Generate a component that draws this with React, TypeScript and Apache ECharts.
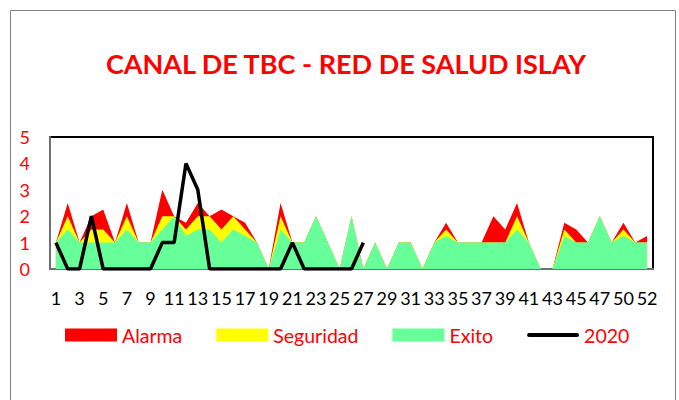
import React, { useEffect, useRef } from "react";
import * as echarts from "echarts";

const categories = [
  "1","2","3","4","5","6","7","8","9","10","11","12","13","14","15","16","17","18","19","20",
  "21","22","23","24","25","26","27","28","29","30","31","32","33","34","35","36","37","38","39","40",
  "41","42","43","44","45","46","47","48","50","51","52",
];

// Upper boundary of each zone
const alarma = [
  1, 2.5, 1, 2, 2.25, 1, 2.5, 1, 1, 3, 2, 1.75, 2.5, 2, 2.25, 2, 1.75, 1, 0, 2.5,
  1, 1, 2, 1, 0, 2, 0, 1, 0, 1, 1, 0, 1, 1.75, 1, 1, 1, 2, 1.5, 2.5,
  1, 0, 0, 1.75, 1.5, 1, 2, 1, 1.75, 1, 1.25,
];
const seguridad = [
  1, 2, 1, 1.5, 1.5, 1, 2, 1, 1, 2, 2, 1.5, 2, 2, 1.5, 2, 1.5, 1, 0, 2,
  1, 1, 2, 1, 0, 2, 0, 1, 0, 1, 1, 0, 1, 1.5, 1, 1, 1, 1, 1, 2,
  1, 0, 0, 1.5, 1, 1, 2, 1, 1.5, 1, 1,
];
const exito = [
  1, 1.5, 1, 1, 1, 1, 1.5, 1, 1, 1.5, 2, 1.25, 1.5, 1.5, 1, 1.5, 1.25, 1, 0, 1.5,
  1, 1, 2, 1, 0, 2, 0, 1, 0, 1, 1, 0, 1, 1.25, 1, 1, 1, 1, 1, 1.5,
  1, 0, 0, 1.25, 1, 1, 2, 1, 1.25, 1, 1,
];
const y2020 = [1, 0, 0, 2, 0, 0, 0, 0, 0, 1, 1, 4, 3, 0, 0, 0, 0, 0, 0, 0, 1, 0, 0, 0, 0, 0, 1];

const yTicks = [0, 1, 2, 3, 4, 5];

const FONT = "Lato, 'Open Sans', sans-serif";

const LINE_ICON =
  "path://M0,0 L0.01,0 L0,0.01 Z M2,4.5 L50,4.5 A2,2 0 0 1 50,8.5 L2,8.5 A2,2 0 0 1 2,4.5 Z M52,13 L51.99,13 L52,12.99 Z";

export default function App() {
  const ref = useRef<HTMLDivElement>(null);
  useEffect(() => {
    if (!ref.current) return;
    const chart = echarts.init(ref.current, undefined, { renderer: "svg" });
    const area = (name: string, data: number[], color: string) => ({
      name,
      type: "line",
      data,
      symbol: "none",
      color,
      lineStyle: { width: 0, color },
      areaStyle: { color, opacity: 1 },
      emphasis: { disabled: true },
    });
    chart.setOption({
      animation: false,
      textStyle: { fontFamily: FONT },
      title: {
        text: "CANAL DE TBC - RED DE SALUD ISLAY",
        left: 341,
        textAlign: "center",
        top: 45,
        textStyle: { color: "#FF0000", fontSize: 27, fontWeight: "bold", fontFamily: FONT },
      },
      graphic: [
        {
          type: "rect",
          shape: { x: 10.5, y: 10.5, width: 665, height: 400 },
          style: { fill: "none", stroke: "#7f7f7f", lineWidth: 1 },
          silent: true,
        },
      ],
      legend: {
        left: 65,
        top: 325,
        padding: 0,
        itemWidth: 52,
        itemHeight: 13,
        itemGap: 34,
        textStyle: { color: "#FF0000", fontSize: 19.5, fontFamily: FONT },
        data: [
          { name: "Alarma", icon: "rect" },
          { name: "Seguridad", icon: "rect" },
          { name: "Exito", icon: "rect" },
          { name: "2020", icon: LINE_ICON, itemStyle: { color: "#000" } },
        ],
      },
      grid: {
        left: 50,
        right: 26,
        top: 137,
        bottom: 131,
        show: true,
        borderColor: "#000",
        borderWidth: 2,
        backgroundColor: "transparent",
      },
      xAxis: {
        type: "category",
        data: categories,
        boundaryGap: true,
        axisLine: { show: true, lineStyle: { color: "#707070", width: 2 } },
        axisTick: { show: false },
        axisLabel: { interval: 1, color: "#000", fontSize: 18, margin: 20, fontFamily: FONT },
        splitLine: { show: false },
      },
      yAxis: {
        type: "value",
        min: yTicks[0],
        max: yTicks[yTicks.length - 1],
        interval: 1,
        axisLine: { show: true, lineStyle: { color: "#707070", width: 2 } },
        axisTick: { show: false },
        axisLabel: { color: "#FF0000", fontSize: 18, margin: 20, fontFamily: FONT },
        splitLine: { show: false },
      },
      series: [
        area("Alarma", alarma, "#FF0000"),
        area("Seguridad", seguridad, "#FFFF00"),
        area("Exito", exito, "#66FF99"),
        {
          name: "2020",
          type: "line",
          data: y2020,
          symbol: "none",
          color: "#000",
          lineStyle: { width: 3.5, color: "#000" },
          emphasis: { disabled: true },
        },
      ],
    });
    return () => chart.dispose();
  }, []);
  return <div ref={ref} style={{ position: "absolute", left: 0, top: 0, width: 679, height: 400 }} />;
}
